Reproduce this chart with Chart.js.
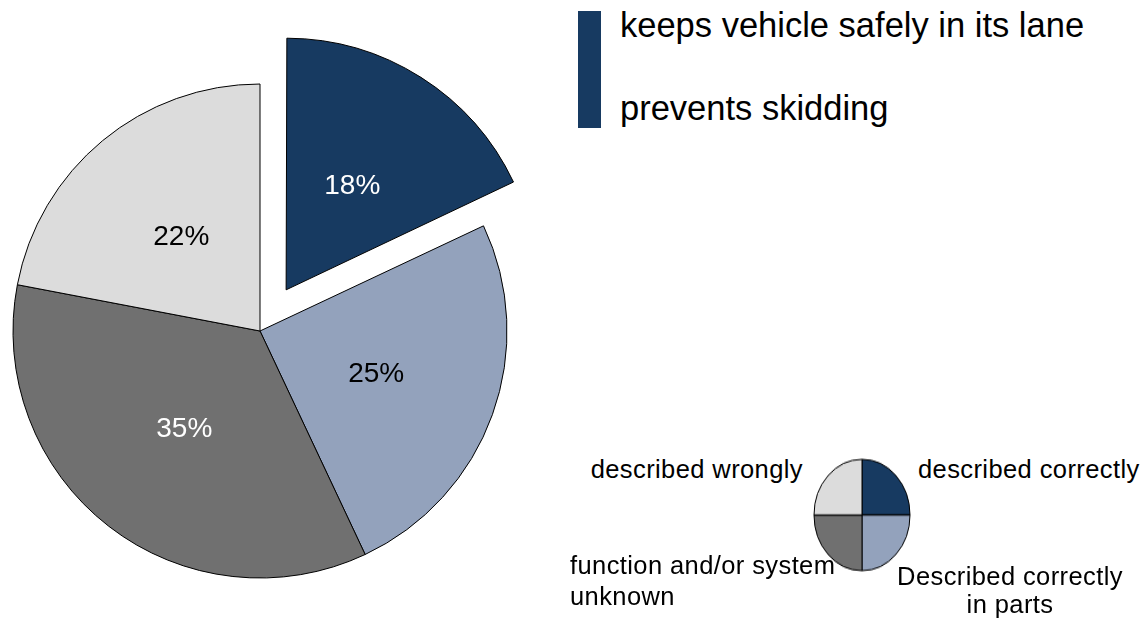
<!DOCTYPE html>
<html>
<head>
<meta charset="utf-8">
<script src="https://cdn.jsdelivr.net/npm/chart.js@4.4.1/dist/chart.umd.min.js"></script>
<style>
  html, body { margin: 0; padding: 0; background: #ffffff; }
  body { width: 1143px; height: 620px; position: relative; overflow: hidden;
         font-family: "Liberation Sans", Arial, sans-serif; color: #000; }
  #mainWrap { position: absolute; left: 0; top: 0; width: 540px; height: 620px; }
  #miniWrap { position: absolute; left: 811.5px; top: 457px; width: 100px; height: 100px;
              transform: scaleY(1.16); transform-origin: 50% 0; }
  .t { position: absolute; white-space: nowrap; line-height: 1; }
  .big { font-size: 34.5px; }
  .small { font-size: 25.5px; letter-spacing: 0.4px; }
  #bar { position: absolute; left: 578px; top: 11px; width: 23px; height: 117px; background: #173a61; }
</style>
</head>
<body>
<div id="mainWrap"><canvas id="main"></canvas></div>
<div id="miniWrap"><canvas id="mini"></canvas></div>
<div id="bar"></div>
<div id="legendTop"></div>
<div id="legendMini"></div>
<script>
// ---- data ----
const categories = ['described correctly', 'Described correctly in parts', 'function and/or system unknown', 'described wrongly'];
const values = [18, 25, 35, 22];
const sliceColors = ['#173a61', '#93a2bc', '#707070', '#dcdcdc'];
const labelColors = ['#ffffff', '#000000', '#ffffff', '#000000'];
const explode = [195, 0, 0, 0];
const topLegend = ['keeps vehicle safely in its lane', 'prevents skidding'];
const miniValues = [1, 1, 1, 1];

// ---- top legend text ----
const BIG = 34.5, SMALL = 25.5;
const topPos = [[620, 37], [620, 120]];
topLegend.forEach((txt, i) => {
  const d = document.createElement('div');
  d.className = 't big';
  d.textContent = txt;
  d.style.left = topPos[i][0] + 'px';
  d.style.top = (topPos[i][1] - 0.8465 * BIG) + 'px';
  document.getElementById('legendTop').appendChild(d);
});

// ---- mini legend labels ----
const miniLabels = [
  { lines: ['described correctly'], align: 'left', x: 918, y: [479] },
  { lines: ['Described correctly', 'in parts'], align: 'center', x: 1010, y: [586, 614] },
  { lines: ['function and/or system', 'unknown'], align: 'left', x: 570, y: [575, 606] },
  { lines: ['described wrongly'], align: 'right', x: 803, y: [479] }
];
miniLabels.forEach(m => {
  m.lines.forEach((ln, j) => {
    const d = document.createElement('div');
    d.className = 't small';
    d.textContent = ln;
    d.style.top = (m.y[j] - 0.8465 * SMALL) + 'px';
    if (m.align === 'left') { d.style.left = m.x + 'px'; }
    else if (m.align === 'right') { d.style.right = (1143 - m.x) + 'px'; }
    else { d.style.left = m.x + 'px'; d.style.transform = 'translateX(-50%)'; }
    document.getElementById('legendMini').appendChild(d);
  });
});

// ---- percentage label plugin ----
const pctLabels = {
  id: 'pctLabels',
  afterDatasetsDraw(chart) {
    const ctx = chart.ctx;
    const meta = chart.getDatasetMeta(0);
    ctx.save();
    ctx.font = '28px "Liberation Sans", Arial, sans-serif';
    ctx.textAlign = 'center';
    ctx.textBaseline = 'middle';
    meta.data.forEach((arc, i) => {
      const p = arc.getProps(['x', 'y', 'startAngle', 'endAngle', 'outerRadius']);
      const mid = (p.startAngle + p.endAngle) / 2;
      const off = (arc.options.offset || 0) / 4;
      const r = off + p.outerRadius / 2;
      const x = p.x + Math.cos(mid) * r;
      const y = p.y + Math.sin(mid) * r + 1;
      ctx.fillStyle = labelColors[i];
      ctx.fillText(values[i] + '%', x, y);
    });
    ctx.restore();
  }
};

new Chart(document.getElementById('main'), {
  type: 'pie',
  data: {
    labels: categories,
    datasets: [{
      data: values,
      backgroundColor: sliceColors,
      borderColor: '#000000',
      borderWidth: 1,
      offset: explode,
      clip: false
    }]
  },
  options: {
    responsive: true,
    maintainAspectRatio: false,
    animation: false,
    events: [],
    radius: 247,
    layout: { padding: { top: 42, bottom: 0, left: 0, right: 20 } },
    plugins: { legend: { display: false }, tooltip: { enabled: false } }
  },
  plugins: [pctLabels]
});

new Chart(document.getElementById('mini'), {
  type: 'pie',
  data: {
    labels: categories,
    datasets: [{
      data: miniValues,
      backgroundColor: sliceColors,
      borderColor: '#000000',
      borderWidth: 1
    }]
  },
  options: {
    responsive: true,
    maintainAspectRatio: false,
    animation: false,
    events: [],
    radius: 48,
    plugins: { legend: { display: false }, tooltip: { enabled: false } }
  }
});
</script>
</body>
</html>
